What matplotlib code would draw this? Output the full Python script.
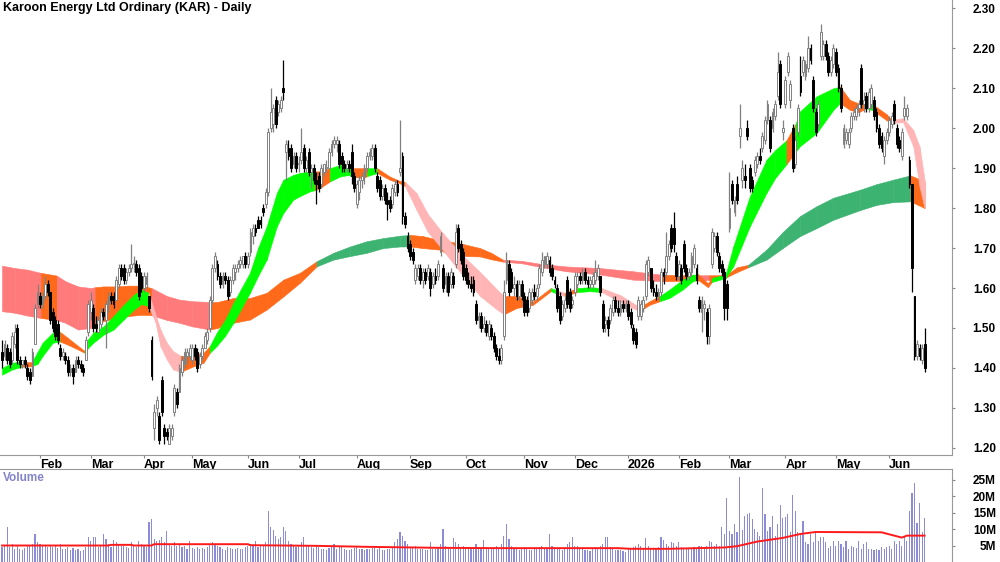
import numpy as np
import pandas as pd
import matplotlib
matplotlib.use("Agg")
import matplotlib.pyplot as plt

plt.rcParams['font.family'] = ['Liberation Sans', 'DejaVu Sans']

# daily bars: (open, high, low, close) in cents, volume in millions
jan25 = [(144,147,140,142,4.5),(143,147,142,146,5.0),(145,146,141,142,10.7),(144,145,140,141,4.5),(142,149,141,148,5.5),
         (146,151,145,149,4.0),(150,151,141,142,5.2),(142,143,140,141,4.0),(141,142,140,142,3.5),(142,143,140,141,4.2),
         (140,141,137,138,4.8),(139,140,136,137,5.0),(138,145,138,144,5.5),(146,156,146,155,8.6),(156,161,155,159,6.0)]
feb25 = [(158,159,155,156,5.5),(156,159,155,158,4.8),(158,163,157,161,5.2),(161,162,158,159,4.5),(159,159,151,152,5.0),
         (154,155,149,150,4.6),(152,153,147,148,4.8),(151,152,146,147,4.3),(145,146,142,143,5.5),(143,145,142,144,3.8),
         (143,144,141,142,4.0),(142,143,138,139,4.4),(139,141,138,140,3.6),(140,141,136,138,4.2),(139,143,139,142,3.5),
         (142,143,140,141,3.8),(141,142,139,140,3.3),(140,141,138,139,3.6),(142,148,142,147,4.5),(149,157,148,156,7.5)]
mar25 = [(154,159,152,157,6.5),(155,156,149,150,7.7),(151,153,149,150,7.5),(149,153,149,152,4.5),(151,155,150,154,5.0),
         (154,155,152,153,8.5),(152,157,145,156,7.0),(156,159,154,158,5.5),(158,159,156,157,4.5),(158,159,155,156,6.8),
         (157,163,157,162,6.0),(161,166,160,165,5.5),(165,166,162,163,4.8),(165,166,161,162,5.0),(162,165,161,164,4.5),
         (164,166,163,165,4.2),(165,171,164,166,6.2),(166,168,164,166,5.0),(166,167,163,164,4.5),(165,166,157,158,6.5),
         (163,164,159,160,5.5)]
apr25 = [(160,164,159,163,4.8),(161,164,160,163,4.5),(158,158,154,155,12.0),(147,148,137,138,13.0),(125,131,122,129,7.0),
         (130,133,128,132,6.5),(128,129,121,122,6.8),(137,138,128,129,7.5),(125,126,121,123,6.0),(124,125,122,123,9.5),
         (121,126,121,125,5.5),(123,126,122,125,4.8),(129,136,128,135,6.2),(134,135,130,131,5.0),(134,141,134,140,5.2),
         (139,143,138,142,4.5),(141,145,140,144,4.8),(143,145,141,144,4.0),(143,146,142,145,6.5)]
may25 = [(142,146,141,145,4.3),(145,146,142,143,4.0),(144,145,139,140,4.6),(141,144,140,143,3.8),(143,146,142,145,4.2),
         (145,149,145,148,4.0),(147,150,146,149,4.5),(150,158,149,157,5.5),(157,166,156,165,6.0),(165,169,164,168,5.5),
         (166,167,162,163,4.8),(163,164,160,161,4.4),(161,164,160,163,4.0),(163,164,161,162,3.6),(162,163,157,158,4.5),
         (159,163,158,162,4.2),(162,166,161,165,4.0),(164,166,162,165,3.8),(165,167,164,166,4.3),(166,168,165,167,3.9),
         (166,168,165,168,4.0),(168,169,165,166,4.4)]
jun25 = [(166,169,165,168,4.8),(169,175,168,174,5.5),(173,176,171,175,5.0),(175,176,173,174,6.3),(177,178,175,175,4.5),
         (177,178,175,176,4.8),(180,181,178,179,5.0),(181,185,180,184,6.0),(184,200,183,199,15.6),(200,210,199,204,10.5),
         (201,206,199,205,9.6),(207,208,200,201,8.0),(204,207,203,206,7.0),(205,208,204,207,7.5),(210,217,207,209,10.7),
         (194,197,187,196,9.5),(195,197,192,193,6.5),(195,196,189,190,5.5),(191,194,190,193,5.0),(193,194,189,190,4.6)]
jul25 = [(191,193,189,191,4.8),(192,200,191,194,6.0),(195,196,189,190,7.7),(190,193,189,192,5.0),(194,195,188,189,4.8),
         (189,191,185,190,4.5),(190,191,186,187,4.2),(187,189,181,186,5.0),(188,189,184,185,4.5),(186,191,185,190,4.0),
         (189,191,188,191,3.8),(190,192,189,190,3.5),(190,195,190,194,4.2),(194,197,193,196,4.5),(196,198,195,197,5.5),
         (196,198,194,197,4.0),(196,197,190,191,5.0),(193,194,189,191,4.4),(191,192,189,190,3.8),(190,192,189,191,3.5),
         (191,192,189,190,3.6),(194,196,186,188,4.0),(188,189,184,185,4.2)]
aug25 = [(181,187,180,186,4.5),(184,188,182,187,4.0),(187,189,185,188,3.8),(188,191,186,190,3.5),(190,194,189,193,4.0),
         (193,195,192,194,3.8),(193,196,192,195,4.2),(195,196,189,190,4.5),(188,189,184,185,4.0),(187,188,182,183,4.6),
         (183,186,182,185,3.7),(185,186,181,182,3.5),(182,184,177,181,4.0),(182,183,179,180,3.8),(181,186,180,185,4.5),
         (184,187,183,186,6.0),(186,187,183,184,7.0),(189,202,188,190,9.2),(193,194,176,178,8.0),(178,179,175,176,6.5),
         (173,174,169,170,5.5)]
sep25 = [(171,172,167,168,4.5),(169,170,166,167,4.2),(162,166,161,165,4.8),(163,166,162,165,4.0),(165,166,161,162,3.8),
         (162,165,160,164,4.0),(164,165,161,162,3.5),(163,166,162,165,3.6),(164,165,158,160,6.2),(161,164,160,163,4.0),
         (163,165,161,162,3.8),(163,167,162,166,4.5),(169,174,168,173,5.5),(165,166,159,160,9.9),(161,164,159,163,5.0),
         (163,164,158,159,4.5),(161,165,160,164,4.0),(163,164,160,161,7.3),(166,176,165,174,6.0),(175,176,169,170,5.5),
         (171,172,166,167,4.5),(169,170,162,163,5.0)]
oct25 = [(165,166,161,162,4.2),(162,164,160,161,4.0),(161,163,159,160,3.8),(162,163,158,159,4.5),(156,157,151,152,5.5),
         (152,154,150,153,4.0),(153,154,149,150,4.2),(150,153,149,151,6.8),(151,152,148,149,4.0),(148,152,147,151,3.8),
         (150,151,147,148,4.0),(148,149,144,145,4.5),(145,146,142,143,5.0),(143,145,141,142,4.2),(142,146,141,145,5.5),
         (148,162,147,159,8.0),(162,169,161,167,11.6),(166,167,158,159,7.0),(164,165,159,160,5.0),(160,163,158,161,4.2),
         (161,162,157,158,4.0),(158,162,157,161,3.6),(161,162,157,158,3.8)]
nov25 = [(158,159,153,154,4.6),(157,158,153,154,4.0),(155,160,154,159,3.7),(157,160,156,159,3.5),(159,161,157,158,3.8),
         (158,161,157,160,4.0),(161,166,160,165,4.5),(164,169,163,167,5.0),(166,168,165,168,4.0),(166,169,165,168,4.2),
         (167,168,163,164,8.6),(165,166,162,163,4.8),(162,163,160,161,4.5),(160,161,154,155,4.0),(158,159,151,152,3.8),
         (153,157,152,156,3.5),(155,158,154,157,4.0),(162,163,155,156,5.5),(159,160,154,155,6.0),(156,158,155,157,7.6)]
dec25 = [(159,164,158,163,5.0),(161,164,160,163,4.8),(163,164,161,162,4.0),(162,165,161,164,3.8),(164,165,161,162,3.5),
         (162,163,160,161,3.6),(161,163,160,162,3.4),(161,164,160,163,3.8),(162,167,161,164,4.2),(163,166,162,165,4.0),
         (163,163,158,159,5.0),(156,157,149,150,5.5),(151,153,149,152,7.7),(152,153,148,150,7.7),(152,156,151,155,4.5),
         (154,158,153,157,4.0),(157,158,154,155,3.7),(155,157,153,154,3.5),(154,157,153,156,3.6),(156,157,154,155,3.2),
         (155,157,154,156,3.0)]
jan26 = [(156,157,152,153,3.8),(154,155,150,151,4.0),(150,151,146,147,4.5),(149,150,145,146,5.0),(153,158,152,157,5.5),
         (153,157,152,156,4.8),(155,158,154,157,4.2),(158,167,157,166,7.2),(164,168,163,167,5.0),(165,165,159,160,4.2),
         (160,162,158,159,3.8),(159,161,157,158,4.0),(158,160,157,159,4.5),(159,165,158,164,7.5),(164,165,161,163,6.8),
         (164,174,163,168,5.5),(168,172,167,171,5.0),(175,176,169,170,6.0),(175,179,169,171,5.8),(168,169,162,163,5.0)]
feb26 = [(163,167,162,166,6.0),(165,166,161,162,4.5),(171,172,164,165,4.0),(165,166,162,163,4.2),(163,165,162,164,3.8),
         (164,169,163,168,4.0),(166,171,165,170,4.5),(165,166,161,162,4.2),(157,158,154,155,5.0),(154,158,149,157,4.8),
         (155,157,152,156,4.4),(154,155,146,148,5.0),(148,156,146,155,6.5),(166,175,165,174,6.0),(170,174,169,173,5.0),
         (173,174,168,169,5.5),(168,169,164,165,4.8),(166,167,163,164,10.5),(164,165,152,155,8.6),(161,162,152,155,19.3)]
mar26 = [(175,189,174,180,9.5),(186,187,181,182,8.6),(179,183,178,182,11.6),(186,188,181,182,9.0),(198,206,195,200,25.7),
         (187,192,185,190,9.8),(188,191,185,187,14.0),(200,202,197,198,14.5),(190,191,184,185,15.0),(187,188,184,185,13.0),
         (189,193,188,192,10.0),(191,194,190,193,9.0),(193,195,191,192,8.0),(195,199,194,198,22.3),(197,203,196,202,14.6),
         (202,207,201,206,9.5),(202,203,194,195,10.5),(200,205,199,204,14.0),(203,207,202,206,8.0),(208,219,207,214,11.6),
         (216,217,205,206,17.2),(199,202,197,200,13.2)]
apr26 = [(206,213,205,212,13.6),(214,219,213,218,14.7),(207,212,205,211,9.0),(200,201,189,190,20.4),(191,198,190,197,15.6),
         (199,206,198,205,9.2),(213,218,208,209,8.5),(214,218,213,217,12.5),(213,217,212,216,6.0),(215,223,214,220,5.5),
         (220,221,216,217,8.5),(212,213,204,205,6.0),(204,205,198,199,9.2),(201,207,200,206,6.5),(218,226,217,224,7.5),
         (218,222,217,221,7.5),(221,222,217,218,6.0),(218,219,213,214,4.3),(214,218,213,217,5.0),(216,221,215,220,6.5)]
may26 = [(219,220,213,214,5.0),(215,216,209,210,6.5),(210,211,204,205,5.5),(196,201,195,200,4.5),(197,200,196,199,6.5),
         (196,200,195,199,4.0),(200,204,199,203,5.0),(203,205,202,204,4.5),(203,206,202,205,4.2),(205,207,203,206,6.5),
         (215,216,205,206,4.0),(206,209,204,207,5.5),(208,209,204,205,6.0),(205,210,204,209,4.0),(206,211,205,210,3.8),
         (207,208,202,203,3.5),(204,205,199,200,4.0),(200,201,195,196,3.5),(198,199,194,195,4.5),(193,198,191,197,3.8),
         (197,200,196,199,4.5)]
jun26 = [(199,203,198,202,5.0),(201,204,200,203,4.0),(206,207,201,202,6.3),(200,201,195,196,5.5),(197,198,194,195,6.5),
         (193,200,192,199,5.0),(203,208,202,205,7.5),(203,206,202,205,6.3),(192,193,185,186,15.5),(186,186,159,165,21.0),
         (158,158,142,143,24.0),(143,147,142,146,11.8),(145,146,142,143,18.0),(142,146,141,145,9.0),(146,150,139,140,13.4)]

holidays = ['2025-01-27', '2025-04-18', '2025-04-21', '2025-04-25', '2025-06-09', '2025-12-25',
            '2025-12-26', '2026-01-01', '2026-01-26', '2026-04-03', '2026-04-06', '2026-06-08']

# short-term ribbon (bar index, lower, upper, trend state u/m/d)
s_idx = [0, 4, 7.7, 11.7, 14, 16, 20, 22.9, 26, 30, 32.5, 34, 36, 40, 44, 48, 52, 55, 57.8, 60.5, 62.5, 65, 67.5,
         70.5, 75.5, 79.5, 82, 84.7, 88, 91.3, 94.5, 97.8, 101, 104.4, 108.4, 111, 114.9, 117.5, 121.5, 123.5, 125.4,
         129.4, 133.3, 136.6, 138, 142.5, 144, 148, 153, 157, 159, 163.5, 168, 172.8, 177, 182, 188.6, 195.3, 198,
         203, 209.5, 216.5, 219.5, 222, 227, 232, 236.6, 244, 251.5, 255.5, 259.5, 263.3, 268.5, 272.5, 274.5, 278.5,
         280, 285.5, 288.5, 295, 301.6, 305, 309.5, 313, 314.8, 321.4, 328, 330.6, 334.5, 338, 341, 343.5, 349, 351,
         355.5, 359.5, 362, 364]
s_lo = [1.383, 1.396, 1.403, 1.404, 1.41, 1.43, 1.463, 1.466, 1.458, 1.446, 1.438, 1.45, 1.463, 1.483, 1.496, 1.521,
        1.546, 1.56, 1.555, 1.515, 1.454, 1.421, 1.396, 1.39, 1.404, 1.413, 1.438, 1.455, 1.48, 1.513, 1.55, 1.588,
        1.63, 1.671, 1.754, 1.788, 1.821, 1.83, 1.842, 1.845, 1.85, 1.867, 1.879, 1.883, 1.879, 1.875, 1.88, 1.888,
        1.871, 1.862, 1.855, 1.796, 1.74, 1.704, 1.67, 1.63, 1.58, 1.546, 1.534, 1.55, 1.558, 1.592, 1.585, 1.58,
        1.59, 1.592, 1.59, 1.565, 1.542, 1.558, 1.567, 1.575, 1.596, 1.617, 1.621, 1.602, 1.615, 1.625, 1.654, 1.754,
        1.838, 1.875, 1.91, 1.94, 1.955, 1.988, 2.046, 2.063, 2.046, 2.04, 2.05, 2.045, 2.02, 2.013, 2.015, 1.955,
        1.854, 1.80]
s_hi = [1.400, 1.413, 1.416, 1.414, 1.44, 1.463, 1.488, 1.49, 1.475, 1.455, 1.443, 1.472, 1.488, 1.504, 1.53, 1.558,
        1.583, 1.596, 1.588, 1.535, 1.496, 1.463, 1.442, 1.43, 1.433, 1.438, 1.455, 1.488, 1.52, 1.563, 1.60, 1.638,
        1.70, 1.754, 1.838, 1.871, 1.883, 1.888, 1.892, 1.892, 1.892, 1.90, 1.908, 1.908, 1.90, 1.90, 1.90, 1.90,
        1.879, 1.868, 1.866, 1.838, 1.785, 1.746, 1.715, 1.68, 1.64, 1.596, 1.58, 1.58, 1.566, 1.60, 1.593, 1.588,
        1.60, 1.602, 1.60, 1.582, 1.552, 1.567, 1.58, 1.596, 1.621, 1.633, 1.635, 1.612, 1.625, 1.634, 1.704, 1.829,
        1.921, 1.945, 1.97, 2.01, 2.042, 2.08, 2.10, 2.104, 2.071, 2.062, 2.067, 2.06, 2.035, 2.021, 2.025, 1.996,
        1.954, 1.87]
s_state = ("uu" "m" "uuuu" "mmm" "uuuuuuuu" "ddddd" "mmm" "uuuuuuuuuuuuu" "mm" "uuu" "mm" "u" "mmm"
           "dddddddd" "mmm" "u" "d" "m" "uu" "dd" "mm" "uuuu" "mm" "uuuuuu" "m" "uuuu" "mmm" "u" "mm" "ddddd")

# long-term ribbon
l_idx = [0, 5, 10, 15.3, 21.6, 25, 30, 35, 36.7, 40, 45, 50, 55, 59, 65, 70, 75, 82, 85, 91.3, 97.8, 104.4, 111,
         117.5, 124.1, 130.7, 137.3, 143.8, 150.4, 157, 161, 166, 172.8, 176.2, 182, 188.6, 193, 197.6, 205, 213,
         222.6, 235.8, 248.9, 260.6, 275, 279, 285.5, 290, 294.4, 301.6, 308, 314.8, 321.4, 328, 338.5, 345, 351.5,
         358.4, 364]
l_lo = [1.542, 1.538, 1.531, 1.525, 1.52, 1.513, 1.496, 1.50, 1.505, 1.517, 1.525, 1.53, 1.533, 1.532, 1.52, 1.513,
        1.504, 1.496, 1.50, 1.513, 1.521, 1.546, 1.579, 1.613, 1.654, 1.671, 1.68, 1.688, 1.70, 1.704, 1.704, 1.70,
        1.696, 1.683, 1.68, 1.679, 1.672, 1.666, 1.662, 1.652, 1.642, 1.634, 1.621, 1.617, 1.619, 1.62, 1.626, 1.64,
        1.652, 1.671, 1.70, 1.73, 1.75, 1.771, 1.795, 1.808, 1.815, 1.817, 1.80]
l_hi = [1.656, 1.65, 1.646, 1.638, 1.631, 1.617, 1.604, 1.60, 1.602, 1.604, 1.604, 1.606, 1.606, 1.60, 1.58, 1.571,
        1.567, 1.565, 1.565, 1.575, 1.575, 1.588, 1.621, 1.638, 1.667, 1.688, 1.704, 1.717, 1.725, 1.731, 1.733, 1.73,
        1.72, 1.717, 1.71, 1.70, 1.688, 1.671, 1.668, 1.66, 1.654, 1.65, 1.642, 1.633, 1.632, 1.632, 1.632, 1.652,
        1.658, 1.696, 1.74, 1.78, 1.805, 1.826, 1.846, 1.86, 1.871, 1.882, 1.867]
l_state = ("ddd" "m" "dddd" "mmmmm" "dddd" "mmmmmmm" "uuuuuu" "mmmmmmm" "dddddd" "m" "d" "mmm"
           "uuuuuuuuu" "mm")

# volume moving average
vma_idx = [0, 42, 43, 51, 52, 59, 60, 97, 98, 124, 144, 172, 196, 243, 248, 263, 285, 290, 298, 308, 315, 321, 347,
           355, 357, 364]
vma_val = [5.0, 5.0, 5.2, 5.2, 5.0, 5.0, 5.4, 5.4, 5.1, 4.9, 4.6, 4.3, 4.2, 4.2, 4.0, 4.0, 4.4, 4.8, 6.2, 7.3, 8.5,
           9.1, 9.0, 7.4, 8.0, 8.0]

months = [jan25, feb25, mar25, apr25, may25, jun25, jul25, aug25, sep25, oct25, nov25, dec25,
          jan26, feb26, mar26, apr26, may26, jun26]
bars = np.array([b for m in months for b in m], dtype=float)
o, h, l, c = (bars[:, k] / 100 for k in range(4))
vol = bars[:, 4]
x = np.arange(len(bars))

dates = pd.bdate_range('2025-01-10', periods=len(bars), freq='C', holidays=holidays)

up_col = {'u': '#00FF00', 'm': '#FF6A1A', 'd': '#FFB5B5'}
lt_col = {'u': '#3CB371', 'm': '#FF6A1A', 'd': '#FF7B7B'}

fig = plt.figure(figsize=(10, 5.62), dpi=100)
ax = fig.add_axes([0, 107 / 562, 0.952, 455 / 562])
axv = fig.add_axes([0, 0, 0.952, 93 / 562])


def ribbon(axis, idx, lo, hi, state, pal):
    for k in range(len(idx) - 1):
        col = pal[state[k]]
        axis.fill_between(idx[k:k + 2], lo[k:k + 2], hi[k:k + 2], color=col, lw=0.4, zorder=1)


ribbon(ax, l_idx, l_lo, l_hi, l_state, lt_col)
ribbon(ax, s_idx, s_lo, s_hi, s_state, up_col)

# candles
up = c >= o
ax.vlines(x[up], l[up], h[up], color='#808080', lw=0.9, zorder=2)
ax.vlines(x[~up], l[~up], h[~up], color='black', lw=0.9, zorder=2)
body = np.maximum(np.abs(c - o), 0.003)
ax.bar(x[up], body[up], bottom=np.minimum(o, c)[up], width=0.72, color='white',
       edgecolor='#808080', linewidth=0.7, zorder=3)
ax.bar(x[~up], body[~up], bottom=np.minimum(o, c)[~up], width=0.72, color='black',
       edgecolor='black', linewidth=0.7, zorder=3)

ax.set_xlim(-0.8, 374.8)
ax.set_ylim(1.182, 2.321)
ax.yaxis.tick_right()
yt = np.round(np.arange(1.2, 2.31, 0.1), 2)
ax.set_yticks(yt, labels=[f"{v:.2f}" for v in yt], ha='right', fontweight='bold', fontsize=8.5)
ax.tick_params(axis='y', length=2.5, color='#888888', pad=29)

# month ticks
mpos, mlab = [], []
for i in range(1, len(dates)):
    if dates[i].month != dates[i - 1].month:
        mpos.append(i)
        mlab.append(str(dates[i].year) if dates[i].month == 1 else dates[i].strftime('%b'))
ax.set_xticks(mpos, labels=mlab, ha='left', fontweight='bold', fontsize=9)
ax.tick_params(axis='x', length=2, color='#888888', pad=1)

for s in ['top', 'left']:
    ax.spines[s].set_visible(False)
for s in ['right', 'bottom']:
    ax.spines[s].set_color('#999999')

ax.text(0.003, 0.982, "Karoon Energy Ltd Ordinary (KAR) - Daily", transform=ax.transAxes,
        fontsize=9, fontweight='bold', va='center', ha='left')

# volume pane
axv.bar(x, vol, width=0.45, color='#8C8CD6', zorder=1)
axv.plot(vma_idx, vma_val, color='#FF1A1A', lw=1.4, zorder=2)
axv.set_xlim(-0.8, 374.8)
axv.set_ylim(0, 28.2)
axv.yaxis.tick_right()
vt = [5, 10, 15, 20, 25]
axv.set_yticks(vt, labels=[f"{v}M" for v in vt], ha='right', fontweight='bold', fontsize=8.5)
axv.tick_params(axis='y', length=2.5, color='#888888', pad=29)
axv.set_xticks([])
for s in ['bottom', 'left']:
    axv.spines[s].set_visible(False)
for s in ['top', 'right']:
    axv.spines[s].set_color('#999999')
axv.text(0.003, 0.9, "Volume", transform=axv.transAxes, color='#8484C8',
         fontsize=8.5, fontweight='bold', va='center', ha='left')

fig.savefig("out.png", dpi=100)
